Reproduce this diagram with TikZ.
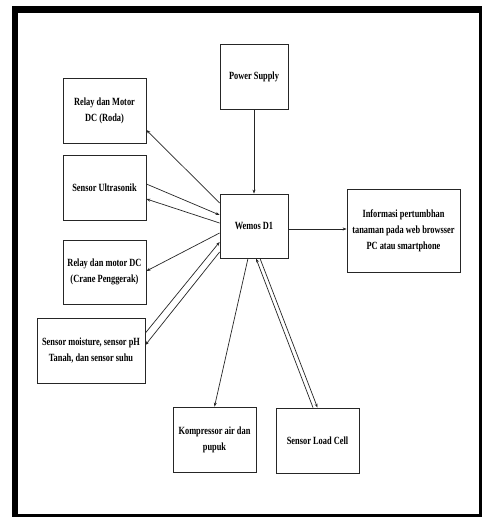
\documentclass[tikz,border=0pt]{standalone}
\usepackage{fontspec}
\setmainfont{Liberation Serif}[FakeStretch=0.76]
\usetikzlibrary{arrows.meta,calc}
\begin{document}
\begin{tikzpicture}[x=1pt,y=-1pt,
  blk/.style={draw=black!85, line width=0.8pt, fill=white, align=center, inner sep=1pt,
    font=\fontsize{11}{16}\selectfont\bfseries, minimum height=65pt},
  conn/.style={line width=0.7pt, draw=black!85, -{Stealth[length=4pt,width=3pt]}}]
\useasboundingbox (0,0) rectangle (484,517);
% frame
\fill[black] (12,6) rectangle (482,517);
\fill[white] (18,13) rectangle (479,514);
% nodes
\node[blk, minimum width=68pt] (power) at (254,76.5) {Power Supply};
\node[blk, minimum width=83pt] (roda) at (104.5,110.5) {Relay dan Motor\\DC (Roda)};
\node[blk, minimum width=83pt] (ultra) at (104.5,187.5) {Sensor Ultrasonik};
\node[blk, minimum width=83pt, minimum height=64pt] (crane) at (104.5,272) {Relay dan motor DC\\(Crane Penggerak)};
\node[blk, minimum width=108pt] (moist) at (91,350.5) {Sensor moisture, sensor pH\\Tanah, dan sensor suhu};
\node[blk, minimum width=68pt, minimum height=64pt] (wemos) at (254,226) {Wemos D1};
\node[blk, minimum width=113pt, minimum height=83pt] (info) at (403.5,230.5) {Informasi pertumbhan\\tanaman pada web browsser\\PC atau smartphone};
\node[blk, minimum width=83pt] (komp) at (214.5,439.5) {Kompressor air dan\\pupuk};
\node[blk, minimum width=83pt] (load) at (317.5,440.5) {Sensor Load Cell};
% connectors
\draw[conn] (power.south) -- (wemos.north);
\draw[conn] ([yshift=-3pt]wemos.east) -- ([yshift=-3pt]wemos.east -| info.west);
\draw[conn] ([yshift=23pt]wemos.west) -- ([yshift=-19.5pt]roda.east);
\draw[conn] ([yshift=3.5pt]ultra.east) -- ([yshift=11pt]wemos.west);
\draw[conn] ([yshift=3pt]wemos.west) -- ([yshift=-11.5pt]ultra.east);
\draw[conn] ([yshift=-7pt]wemos.west) -- ([yshift=1pt]crane.east);
\draw[conn] ([yshift=17.5pt]moist.east) -- ([yshift=-16pt]wemos.west);
\draw[conn] ([yshift=-26pt]wemos.west) -- ([yshift=5.5pt]moist.east);
\draw[conn] ([xshift=-6pt]wemos.south) -- (komp.north);
\draw[conn] ([xshift=-4.5pt]load.north) -- ([xshift=2pt]wemos.south);
\draw[conn] ([xshift=6pt]wemos.south) -- (load.north);
\end{tikzpicture}
\end{document}
